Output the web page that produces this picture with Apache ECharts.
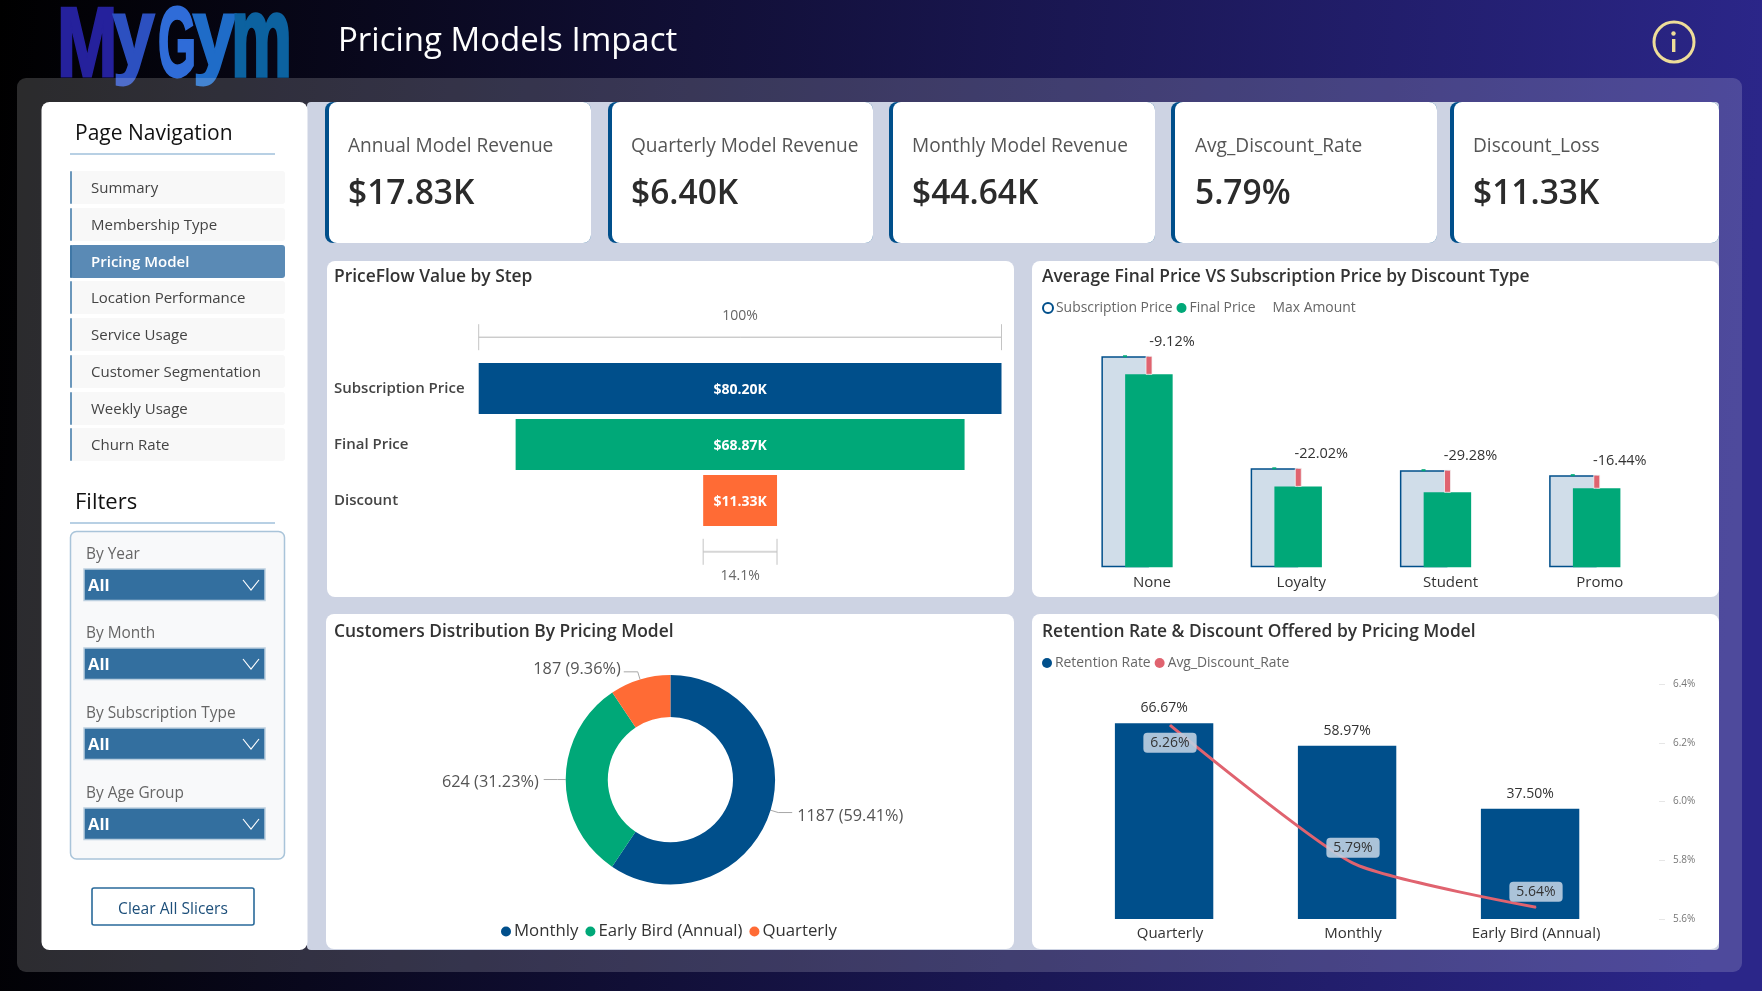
<!DOCTYPE html>
<html><head><meta charset="utf-8"><title>Pricing Models Impact</title>
<style>html,body{margin:0;padding:0;background:#000;overflow:hidden}#c{width:1762px;height:991px}</style>
<script src="https://cdn.jsdelivr.net/npm/echarts@6/dist/echarts.min.js"></script>
</head><body><div id="c"></div><script>
const navItems=['Summary','Membership Type','Pricing Model','Location Performance','Service Usage','Customer Segmentation','Weekly Usage','Churn Rate'];
const activeNav='Pricing Model';
const filterNames=['By Year','By Month','By Subscription Type','By Age Group'];
const kpiLabels=['Annual Model Revenue','Quarterly Model Revenue','Monthly Model Revenue','Avg_Discount_Rate','Discount_Loss'];
const kpiValues=['$17.83K','$6.40K','$44.64K','5.79%','$11.33K'];
const flowSteps=['Subscription Price','Final Price','Discount'];
const flowValues=[80.20,68.87,11.33];
const flowShare=['100%','','14.1%'];
const discountTypes=['None','Loyalty','Student','Promo'];
const subscriptionPrice=[33.9,15.9,15.6,14.8];
const finalPrice=[31.0,13.0,12.05,12.7];
const discountDelta=['-9.12%','-22.02%','-29.28%','-16.44%'];
const customerNames=['Monthly','Early Bird (Annual)','Quarterly'];
const customerCounts=[1187,624,187];
const modelNames=['Quarterly','Monthly','Early Bird (Annual)'];
const retentionRate=[66.67,58.97,37.50];
const avgDiscountRate=[6.26,5.79,5.64];

const FF='"Open Sans","Noto Sans",sans-serif';
const BLUE='#004f8b',GREEN='#00a878',ORANGE='#ff6b35',RED='#e0636f',INK='#333333';
const els=[];
const rect=(x,y,w,h,fill,r=0,extra={})=>els.push({type:'rect',silent:true,shape:{x,y,width:w,height:h,r},style:{fill,...extra}});
const text=(t,x,y,font,fill,align='left')=>els.push({type:'text',silent:true,style:{text:t,x,y,font:font+' '+FF,fill,textAlign:align,textVerticalAlign:'middle'}});

// page background
rect(0,0,1762,991,{type:'linear',x:0,y:0,x2:1,y2:0.12,colorStops:[{offset:0,color:'#000000'},{offset:1,color:'#2b2689'}]});
// logo
const logoColors=['#25219c','#2c50c0','#2f6cd8','#1f6cc8','#0c62a0'];
const logoXs=[57,113,158,193,231];
const logoSX=[0.74,0.76,0.5,0.78,0.7],logoSY=[1,0.96,1,0.96,1.18],logoY=[98,86,98,86,102];
'MyGym'.split('').forEach((ch,i)=>els.push({type:'text',silent:true,x:logoXs[i],y:logoY[i],scaleX:logoSX[i],scaleY:logoSY[i],
  style:{text:ch,x:0,y:0,font:'bold 98px "Liberation Sans Narrow","Liberation Sans",sans-serif',fill:logoColors[i],stroke:logoColors[i],lineWidth:3,textAlign:'left',textVerticalAlign:'bottom'}}));
text('Pricing Models Impact',338,41.5,'33px','#ffffff');
// info icon
els.push({type:'circle',silent:true,shape:{cx:1674,cy:42,r:20},style:{fill:'none',stroke:'#eedd99',lineWidth:3}});
els.push({type:'circle',silent:true,shape:{cx:1673.5,cy:33.5,r:2.2},style:{fill:'#eedd99'}});
rect(1672,39,3.4,13,'#eedd99');
// panel
rect(17,78,1725,894,'rgba(255,255,255,0.17)',9);
rect(307,102,1412,848,'#cdd3e3',4);
// left column
rect(41.5,102,266,848,'#ffffff',8);
text('Page Navigation',75,134.5,'500 21px','#111111');
rect(70,153,205,2,'#b8d0e4');
const navYs=[171,208,245,281,318,355,392,428];
navItems.forEach((n,i)=>{
  const on=n===activeNav;
  rect(70,navYs[i],215,33,on?'#5a8ab5':'#f8f8f8',3);
  rect(70,navYs[i],2,33,on?'#3f77a6':'#6b97bb',1);
  text(n,91,navYs[i]+18,on?'600 15px':'15px',on?'#ffffff':'#444444');
});
text('Filters',75,503,'500 22px','#111111');
rect(70,522,205,2,'#b8d0e4');
rect(70.5,531.5,214,327.5,'#f8f9fa',6,{stroke:'#a9c4d9',lineWidth:1.5});
const filterYs=[555,634,714,794],dropYs=[569,648,728,808];
filterNames.forEach((n,i)=>{
  text(n,86,filterYs[i],'15.4px','#666666');
  rect(84,dropYs[i],181,31.5,'#336f9f',0,{stroke:'#bcd0e0',lineWidth:1.5});
  text('All',88,dropYs[i]+17.5,'bold 16.5px','#ffffff');
  els.push({type:'polyline',silent:true,shape:{points:[[243,dropYs[i]+11],[251,dropYs[i]+21],[259,dropYs[i]+11]]},style:{fill:'none',stroke:'#ffffff',lineWidth:1.2}});
});
rect(92,888,162,37,'#ffffff',2,{stroke:'#2a6a9a',lineWidth:1.6});
text('Clear All Slicers',173,910,'500 15.6px','#1d4f7a','center');
// KPI cards
const kpiX=[325,608,889,1171,1450],kpiW=[266,265,266,266,269],kpiTextX=[348,631,912,1195,1473];
kpiLabels.forEach((l,i)=>{
  rect(kpiX[i],102,kpiW[i],141,BLUE,8);
  rect(kpiX[i]+4,102,kpiW[i]-4,141,'#ffffff',8);
  text(l,kpiTextX[i],147,'19.1px','#555555');
  text(kpiValues[i],kpiTextX[i],194,'600 33.5px','#2b2b2b');
});
// chart cards
[[327,261,687,336,'PriceFlow Value by Step'],[1032,261,687,336,'Average Final Price VS Subscription Price by Discount Type'],
 [326,614,688,335,'Customers Distribution By Pricing Model'],[1032,614,687,335,'Retention Rate & Discount Offered by Pricing Model']].forEach(([x,y,w,h,t],i)=>{
  rect(x,y,w,h,'#ffffff',8);
  text(t,i%2?1042:334,i<2?277:632,'600 17.4px',INK);
});

const legendBase={orient:'horizontal',icon:'circle',padding:0,itemWidth:10,itemHeight:10,itemGap:4,selectedMode:false,textStyle:{fontFamily:FF,fontSize:13.9,color:'#666666',padding:[0,0,0,-2]}};

const option={
  animation:false,
  backgroundColor:'transparent',
  graphic:{elements:els},
  textStyle:{fontFamily:FF},
  legend:[
    {...legendBase,left:1042,top:301,data:[{name:'Subscription Price',itemStyle:{color:'#ffffff',borderColor:BLUE,borderWidth:2}},{name:'Final Price'},{name:'Max Amount',itemStyle:{color:'transparent'}}]},
    {...legendBase,left:1042,top:656,data:['Retention Rate','Avg_Discount_Rate']},
    {...legendBase,left:501,top:923,itemGap:7,textStyle:{fontFamily:FF,fontSize:16.8,color:INK,padding:[0,0,0,-2]},data:customerNames}
  ],
  grid:[
    {left:478.7,width:522.8,top:360.5,height:168},
    {left:1062.4,width:597,top:318.3,height:249},
    {left:1078.5,width:549,top:684,height:235}
  ],
  xAxis:[
    {gridIndex:0,type:'value',min:-40.1,max:40.1,show:false},
    {gridIndex:1,type:'category',data:discountTypes,axisLine:{show:false},axisTick:{show:false},axisLabel:{fontSize:15,fontWeight:500,color:INK,margin:8,padding:[0,0,0,30]}},
    {gridIndex:2,type:'category',data:modelNames,axisLine:{show:false},axisTick:{show:false},axisLabel:{fontSize:15,fontWeight:500,color:INK,margin:7}}
  ],
  yAxis:[
    {gridIndex:0,type:'category',inverse:true,data:flowSteps,axisLine:{show:false},axisTick:{show:false},axisLabel:{align:'left',margin:144.7,fontSize:15,fontWeight:600,color:'#444444',padding:[2,0,0,0]}},
    {gridIndex:1,type:'value',min:0,max:40,show:false},
    {gridIndex:2,type:'value',min:0,max:80,show:false},
    {gridIndex:2,type:'value',position:'right',offset:32,min:5.6,max:6.4,interval:0.2,splitLine:{show:false},axisLine:{show:false},
     axisTick:{show:true,length:6,lineStyle:{type:'dotted',color:'#cccccc'}},axisLabel:{margin:13.5,fontSize:10,color:'#777777',formatter:v=>v.toFixed(1)+'%'}}
  ],
  series:[
    {type:'custom',name:'PriceFlow',xAxisIndex:0,yAxisIndex:0,data:flowValues.map((v,i)=>[i,v]),encode:{x:1,y:0},
     renderItem(p,api){
       const i=api.value(0),v=api.value(1),c=[BLUE,GREEN,ORANGE][i];
       const a=api.coord([-v/2,i]),b=api.coord([v/2,i]);
       const kids=[{type:'rect',shape:{x:a[0],y:a[1]-25.5,width:b[0]-a[0],height:51},style:{fill:c},
         textContent:{type:'text',style:{text:'$'+v.toFixed(2)+'K',fill:'#fff',font:'700 14px '+FF}},textConfig:{position:'inside',offset:[0,2]}}];
       if(flowShare[i]){
         const dir=i===0?-1:1,y=a[1]+dir*51.3;
         kids.push({type:'line',shape:{x1:a[0],y1:y,x2:b[0],y2:y},style:{stroke:i?'#d6d6d6':'#b5b5b5',lineWidth:i?2:1}});
         kids.push({type:'line',shape:{x1:a[0],y1:y-13,x2:a[0],y2:y+13},style:{stroke:'#c4c4c4',lineWidth:1}});
         kids.push({type:'line',shape:{x1:b[0],y1:y-13,x2:b[0],y2:y+13},style:{stroke:'#c4c4c4',lineWidth:1}});
         kids.push({type:'text',style:{text:flowShare[i],x:(a[0]+b[0])/2,y:y+dir*(i?24:21),fill:'#666',font:'14px '+FF,textAlign:'center',textVerticalAlign:'middle'}});
       }
       return {type:'group',children:kids};
     }},
    {type:'bar',name:'Subscription Price',xAxisIndex:1,yAxisIndex:1,data:subscriptionPrice,barWidth:47.5,barGap:'-50%',
     itemStyle:{color:'#d0dde9',borderColor:BLUE,borderWidth:1.5}},
    {type:'bar',name:'Final Price',xAxisIndex:1,yAxisIndex:1,data:finalPrice,barWidth:47.5,barGap:'-50%',itemStyle:{color:GREEN}},
    {type:'custom',name:'Max Amount',xAxisIndex:1,yAxisIndex:1,itemStyle:{color:'transparent'},data:discountTypes.map((d,i)=>[i,subscriptionPrice[i],finalPrice[i]]),encode:{x:0,y:1},z:5,
     renderItem(p,api){
       const i=api.value(0),a=api.coord([i,api.value(1)]),b=api.coord([i,api.value(2)]);
       return {type:'group',children:[
         {type:'rect',shape:{x:a[0]-14,y:a[1]-1,width:4,height:2},style:{fill:GREEN}},
         {type:'rect',shape:{x:a[0]+9,y:a[1],width:6,height:b[1]-a[1]},style:{fill:RED,stroke:'#f3f3f3',lineWidth:0.8}},
         {type:'text',style:{text:discountDelta[i],x:a[0]+35,y:a[1]-14,fill:INK,font:'14.5px '+FF,textAlign:'center',textVerticalAlign:'middle'}}
       ]};
     }},
    {type:'pie',name:'Customers',center:[670.4,779.7],radius:[62.6,104.7],startAngle:90,clockwise:true,percentPrecision:2,
     data:customerNames.map((n,i)=>({name:n,value:customerCounts[i],itemStyle:{color:[BLUE,GREEN,ORANGE][i]}})),
     label:{formatter:'{c} ({d}%)',fontSize:16.3,color:'#555555',fontFamily:FF},
     labelLine:{length:8,length2:14,lineStyle:{color:'#a8a8a8',width:1}},
     labelLayout:p=>({dy:[4,3,-2.5][p.dataIndex],dx:[0,0,2][p.dataIndex]})},
    {type:'bar',name:'Retention Rate',xAxisIndex:2,yAxisIndex:2,data:retentionRate,barWidth:98.4,barGap:'-88%',itemStyle:{color:BLUE},
     label:{show:true,position:'top',distance:8,fontSize:14,color:INK,formatter:p=>p.value.toFixed(2)+'%'}},
    {type:'bar',name:'Layout spacer',xAxisIndex:2,yAxisIndex:2,data:[],barWidth:98.4,barGap:'-88%'},
    {type:'line',name:'Avg_Discount_Rate',xAxisIndex:2,yAxisIndex:3,smooth:0.2,symbol:'circle',symbolSize:1,
     data:avgDiscountRate.map((v,i)=>({value:v,label:{position:i===0?'bottom':'top',distance:i===0?7:5}})),
     lineStyle:{color:RED,width:3},itemStyle:{color:RED},z:6,
     label:{show:true,fontSize:14,color:INK,backgroundColor:'rgba(190,207,225,0.9)',borderRadius:4,padding:[3,7],formatter:p=>p.value.toFixed(2)+'%'}}
  ]
};
const chart=echarts.init(document.getElementById('c'),null,{width:1762,height:991});
chart.setOption(option);
</script></body></html>
